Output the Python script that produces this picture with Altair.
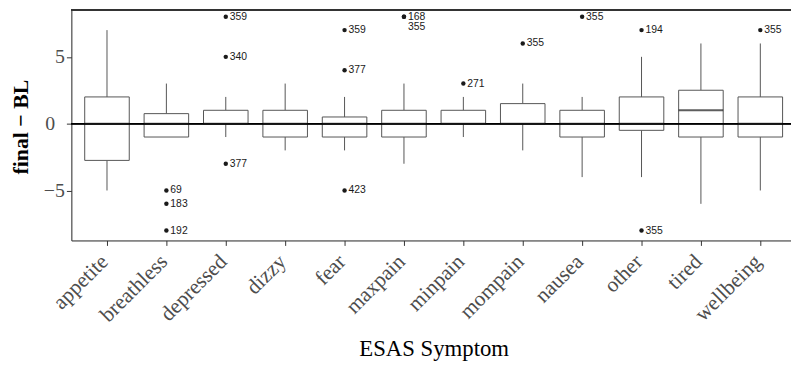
import altair as alt
import pandas as pd

# ---- data ----
symptoms = ["appetite", "breathless", "depressed", "dizzy", "fear", "maxpain",
            "minpain", "mompain", "nausea", "other", "tired", "wellbeing"]
whisker_low = [-5, -1, -1, -2, -2, -3, -1, -2, -4, -4, -6, -5]
q1 = [-2.75, -1, 0, -1, -1, -1, 0, 0, -1, -0.5, -1, -1]
median = [0, 0, 0, 0, 0, 0, 0, 0, 0, 0, 1, 0]
q3 = [2, 0.75, 1, 1, 0.5, 1, 1, 1.5, 1, 2, 2.5, 2]
whisker_high = [7, 3, 2, 3, 2, 3, 2, 3, 2, 5, 6, 6]

out_symptom = ["breathless", "breathless", "breathless", "depressed", "depressed",
               "depressed", "fear", "fear", "fear", "maxpain", "maxpain", "minpain",
               "mompain", "nausea", "other", "other", "wellbeing"]
out_value = [-5, -6, -8, 8, 5, -3, 7, 4, -5, 8, 8, 3, 6, 8, 7, -8, 7]
out_label = [" 69", "183", "192", "359", "340", "377", "359", "377", "423",
             "168", "355", "271", "355", "355", "194", "355", "355"]

y_ticks = [-5, 0, 5]
y_domain = [-8.74, 8.52]

box_df = pd.DataFrame({"symptom": symptoms, "low": whisker_low, "q1": q1,
                       "median": median, "q3": q3, "high": whisker_high})
out_df = pd.DataFrame({"symptom": out_symptom, "value": out_value, "label": out_label})

SERIF = "Liberation Serif"
GREY = "#555555"

x_axis = alt.Axis(
    title="ESAS Symptom", labelAngle=-45, labelAlign="right", labelBaseline="middle",
    labelFont=SERIF, labelFontSize=21.5, labelColor="#4d4d4d", labelPadding=13,
    labelOffset=-2,
    tickSize=5, tickColor="#333333", domainColor="#333333",
    titleFont=SERIF, titleFontSize=23, titleFontWeight="normal", titleColor="#000000",
    titleX=366, titleY=116, titleBaseline="alphabetic", titleAlign="center",
)
x_scale = alt.Scale(domain=symptoms, range=[0, 732], paddingInner=0, paddingOuter=0.1)
x_enc = alt.X("symptom:N", scale=x_scale, axis=x_axis, sort=symptoms)

y_axis = alt.Axis(
    title="final − BL", values=y_ticks, grid=False,
    labelFont=SERIF, labelFontSize=20, labelColor="#4d4d4d",
    labelPadding={"condition": {"test": "datum.value == 0", "value": 12}, "value": 2},
    tickSize=5, tickColor="#333333", domainColor="#333333",
    titleFont=SERIF, titleFontSize=22, titleFontWeight="bold", titleColor="#000000",
    titleX=-44, titleY=118, titleBaseline="alphabetic", titleAlign="center", titleAngle=270,
)
y_scale = alt.Scale(domain=y_domain, nice=False, zero=False)


def Y(field):
    return alt.Y(field, scale=y_scale, axis=y_axis)


base = alt.Chart(box_df)

whisk_lo = base.mark_rule(color=GREY, strokeWidth=1).encode(
    x=x_enc, y=Y("low:Q"), y2="q1:Q")
whisk_hi = base.mark_rule(color=GREY, strokeWidth=1).encode(
    x=x_enc, y=Y("q3:Q"), y2="high:Q")
boxes = base.mark_bar(fill="white", stroke=GREY, strokeWidth=1,
                      width=alt.RelativeBandSize(0.75)).encode(
    x=x_enc, y=Y("q1:Q"), y2="q3:Q")
medians = base.mark_tick(color="#1a1a1a", size=45, thickness=2).encode(
    x=x_enc, y=Y("median:Q"))

hline = alt.Chart(box_df).mark_rule(color="#000000", strokeWidth=1).encode(
    y=alt.datum(0, scale=y_scale, axis=y_axis))
top_border = alt.Chart(box_df).mark_rule(color="#333333", strokeWidth=1).encode(
    y=alt.datum(y_domain[1], scale=y_scale, axis=y_axis))

obase = alt.Chart(out_df).transform_window(
    dup="row_number()", groupby=["symptom", "value"])
points = obase.mark_circle(size=20, color="#1a1a1a", opacity=1).encode(
    x=x_enc, y=Y("value:Q"))
labels1 = obase.transform_filter("datum.dup == 1").mark_text(
    align="left", baseline="middle", dx=4, font="Liberation Sans", fontSize=10.5,
    color="#1a1a1a").encode(x=x_enc, y=Y("value:Q"), text="label:N")
labels2 = obase.transform_filter("datum.dup == 2").mark_text(
    align="left", baseline="middle", dx=4, dy=10, font="Liberation Sans", fontSize=10.5,
    color="#1a1a1a").encode(x=x_enc, y=Y("value:Q"), text="label:N")

chart = alt.layer(
    whisk_lo, whisk_hi, boxes, hline, medians, points, labels1, labels2, top_border
).properties(
    width=727, height=233,
    autosize=alt.AutoSizeParams(type="none"),
    padding={"left": 64, "top": 0, "right": 0, "bottom": 124},
).configure_view(stroke=None).configure(background="white")

chart.save("out.html", embed_options={"renderer": "svg", "actions": False})
